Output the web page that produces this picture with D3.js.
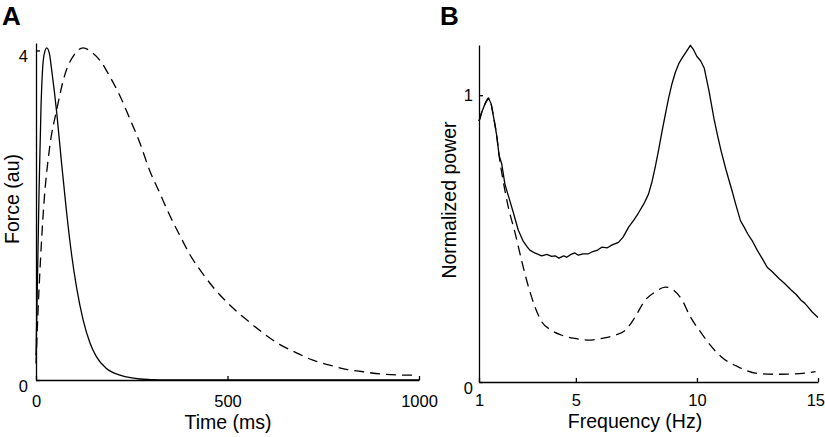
<!DOCTYPE html>
<html>
<head>
<meta charset="utf-8">
<script src="https://cdn.jsdelivr.net/npm/d3@7"></script>
<style>
  html, body { margin: 0; padding: 0; background: #fff; }
  svg { display: block; }
  text { font-family: "Liberation Sans", Arial, Helvetica, sans-serif; fill: #000; }
</style>
</head>
<body>
<svg id="chart" width="825" height="437"></svg>
<script>
// ---------- Panel A data: force (au) vs time (ms) ----------
const timeTicks = [0, 500, 1000];
const forceTicks = [0, 4];
const fastTime  = [0, 3, 8, 13, 19, 24, 28, 35, 41, 54, 67, 80, 93, 106, 123, 141, 158, 184, 219, 250, 271, 300, 332, 500, 1000];
const fastForce = [0.3, 1.0, 2.3, 3.3, 3.88, 4.0, 4.03, 3.96, 3.76, 3.25, 2.62, 2.03, 1.52, 1.12, 0.73, 0.45, 0.28, 0.14, 0.06, 0.025, 0.012, 0.005, 0.0, 0.0, 0.0];
const slowTime  = [0, 5, 10, 20, 35, 55, 75, 100, 123, 145, 167, 193, 219, 245, 271, 297, 323, 350, 376, 402, 437, 471, 506, 550, 593, 637, 680, 723, 767, 810, 854, 906, 960, 993];
const slowForce = [0.2, 0.8, 1.3, 2.1, 2.8, 3.3, 3.7, 3.95, 4.03, 3.98, 3.88, 3.68, 3.45, 3.17, 2.88, 2.54, 2.27, 1.99, 1.75, 1.52, 1.28, 1.08, 0.91, 0.73, 0.57, 0.43, 0.33, 0.24, 0.18, 0.13, 0.10, 0.07, 0.06, 0.06];

// ---------- Panel B data: normalized power vs frequency (Hz) ----------
const freqTicks = [1, 5, 10, 15];
const powerTicks = [0, 1];
const solidFreq  = [1.0, 1.05, 1.11, 1.25, 1.39, 1.5, 1.59, 1.73, 1.83, 1.94, 2.07, 2.21, 2.42, 2.62, 2.83, 3.0, 3.1, 3.3, 3.59, 3.8, 4.0, 4.14, 4.3, 4.5, 4.62, 4.8, 4.96, 5.1, 5.3, 5.52, 5.7, 5.9, 6.07, 6.3, 6.5, 6.76, 6.95, 7.18, 7.4, 7.59, 7.8, 8.0, 8.15, 8.28, 8.42, 8.56, 8.7, 8.83, 8.97, 9.11, 9.25, 9.39, 9.55, 9.73, 9.85, 10.0, 10.15, 10.3, 10.5, 10.7, 10.85, 11.0, 11.2, 11.45, 11.6, 11.8, 11.95, 12.1, 12.3, 12.5, 12.7, 12.9, 13.1, 13.4, 13.6, 13.9, 14.1, 14.3, 14.45, 14.6, 14.75, 15.0];
const solidPower = [0.91, 0.92, 0.94, 0.97, 0.99, 0.97, 0.93, 0.86, 0.79, 0.76, 0.69, 0.65, 0.59, 0.53, 0.49, 0.47, 0.46, 0.45, 0.44, 0.445, 0.438, 0.44, 0.432, 0.44, 0.435, 0.445, 0.45, 0.442, 0.447, 0.447, 0.455, 0.46, 0.47, 0.468, 0.478, 0.487, 0.505, 0.54, 0.565, 0.59, 0.62, 0.655, 0.70, 0.75, 0.81, 0.875, 0.935, 0.99, 1.04, 1.08, 1.11, 1.13, 1.15, 1.174, 1.16, 1.135, 1.12, 1.095, 1.014, 0.92, 0.86, 0.805, 0.74, 0.667, 0.62, 0.562, 0.54, 0.516, 0.49, 0.458, 0.43, 0.40, 0.385, 0.36, 0.345, 0.32, 0.305, 0.285, 0.275, 0.26, 0.245, 0.225];
const dashFreq  = [1.0, 1.11, 1.25, 1.39, 1.5, 1.59, 1.73, 1.83, 2.0, 2.21, 2.49, 2.77, 3.05, 3.32, 3.59, 4.0, 4.42, 4.96, 5.5, 6.07, 6.62, 7.04, 7.45, 7.86, 8.28, 8.69, 9.04, 9.39, 9.73, 10.1, 10.5, 11.0, 11.7, 12.5, 13.2, 14.0, 14.9];
const dashPower = [0.91, 0.94, 0.97, 0.99, 0.97, 0.93, 0.86, 0.79, 0.70, 0.61, 0.52, 0.42, 0.33, 0.26, 0.21, 0.18, 0.163, 0.152, 0.146, 0.152, 0.163, 0.18, 0.227, 0.285, 0.314, 0.331, 0.32, 0.285, 0.227, 0.18, 0.134, 0.088, 0.053, 0.03, 0.027, 0.028, 0.036];

const svg = d3.select("#chart");
const LW = 1.3;
const TICK_FS = 16.5;
const LABEL_FS = 19.5;
const DASH = "10,6";

// ---------- Panel A ----------
const xA = d3.scaleLinear().domain([0, 1000]).range([36, 419]);
const yA = d3.scaleLinear().domain([0, 4.09]).range([380, 43]);
const gA = svg.append("g");

gA.append("g").attr("transform", "translate(0,380)")
  .call(d3.axisBottom(xA).tickValues(timeTicks).tickSize(-4).tickSizeOuter(0).tickPadding(15).tickFormat(d3.format("d")))
  .call(g => { g.selectAll("path,line").attr("stroke", "#000").attr("stroke-width", LW);
               g.selectAll("text").attr("font-size", TICK_FS).attr("font-family", null); });
gA.append("g").attr("transform", "translate(36,0)")
  .call(d3.axisLeft(yA).tickValues(forceTicks).tickSize(-4).tickSizeOuter(0).tickPadding(8).tickFormat(d3.format("d")))
  .call(g => { g.selectAll("path,line").attr("stroke", "#000").attr("stroke-width", LW);
               g.selectAll("text").attr("font-size", TICK_FS).attr("font-family", null).attr("dy", "0.68em"); });

const lineA = (xs, ys) => d3.line().x((d, i) => xA(xs[i])).y((d, i) => yA(ys[i])).curve(d3.curveMonotoneX)(xs);
gA.append("path").attr("d", lineA(fastTime, fastForce)).attr("fill", "none").attr("stroke", "#000").attr("stroke-width", LW);
gA.append("path").attr("d", lineA(slowTime, slowForce)).attr("fill", "none").attr("stroke", "#000").attr("stroke-width", LW).attr("stroke-dasharray", DASH);

gA.append("text").attr("x", 228).attr("y", 429).attr("text-anchor", "middle").attr("font-size", LABEL_FS).text("Time (ms)");
gA.append("text").attr("transform", "translate(19,199) rotate(-90)").attr("text-anchor", "middle").attr("font-size", LABEL_FS).text("Force (au)");
gA.append("text").attr("x", 2).attr("y", 25).attr("font-size", 26).attr("font-weight", "bold").text("A");

// ---------- Panel B ----------
const xB = d3.scaleLinear().domain([1, 15]).range([479, 818]);
const yB = d3.scaleLinear().domain([0, 1.175]).range([382, 45]);
const gB = svg.append("g");

gB.append("g").attr("transform", "translate(0,382)")
  .call(d3.axisBottom(xB).tickValues(freqTicks).tickSize(-4).tickSizeOuter(0).tickPadding(12).tickFormat(d3.format("d")))
  .call(g => { g.selectAll("path,line").attr("stroke", "#000").attr("stroke-width", LW);
               g.selectAll("text").attr("font-size", TICK_FS).attr("font-family", null)
                 .attr("text-anchor", d => d === 15 ? "end" : "middle")
                 .attr("dx", d => d === 15 ? 6.5 : 0); });
gB.append("g").attr("transform", "translate(479,0)")
  .call(d3.axisLeft(yB).tickValues(powerTicks).tickSize(-4).tickSizeOuter(0).tickPadding(6).tickFormat(d3.format("d")))
  .call(g => { g.selectAll("path,line").attr("stroke", "#000").attr("stroke-width", LW);
               g.selectAll("text").attr("font-size", TICK_FS).attr("font-family", null)
                 .attr("dy", d => d === 0 ? "0.72em" : "0.32em"); });

const lineB = (xs, ys, curve) => d3.line().x((d, i) => xB(xs[i])).y((d, i) => yB(ys[i])).curve(curve)(xs);
gB.append("path").attr("d", lineB(dashFreq, dashPower, d3.curveMonotoneX)).attr("fill", "none").attr("stroke", "#000").attr("stroke-width", LW).attr("stroke-dasharray", DASH);
gB.append("path").attr("d", lineB(solidFreq, solidPower, d3.curveLinear)).attr("fill", "none").attr("stroke", "#000").attr("stroke-width", LW).attr("stroke-linejoin", "round");

gB.append("text").attr("x", 635).attr("y", 428).attr("text-anchor", "middle").attr("font-size", LABEL_FS).text("Frequency (Hz)");
gB.append("text").attr("transform", "translate(456,200) rotate(-90)").attr("text-anchor", "middle").attr("font-size", LABEL_FS).text("Normalized power");
gB.append("text").attr("x", 440).attr("y", 25).attr("font-size", 26).attr("font-weight", "bold").text("B");
</script>
</body>
</html>
